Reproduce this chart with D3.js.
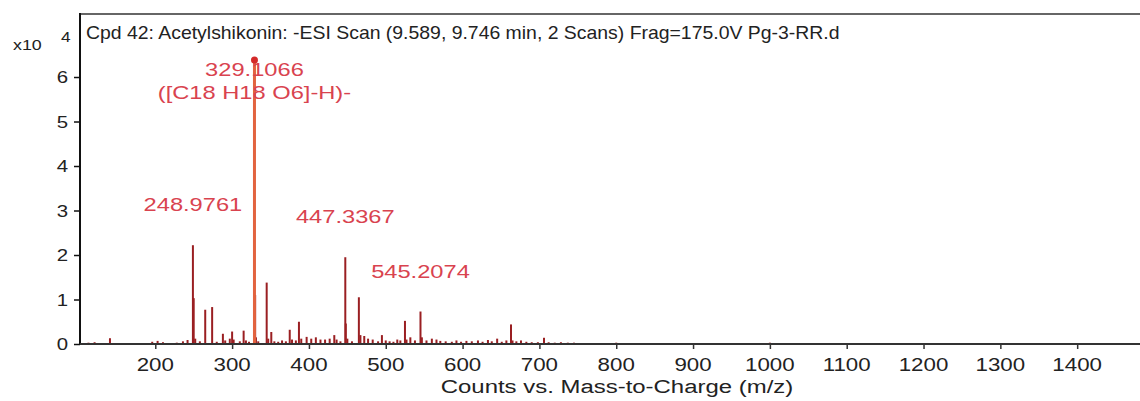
<!DOCTYPE html>
<html><head><meta charset="utf-8">
<script src="https://cdn.jsdelivr.net/npm/d3@7"></script>
<style>html,body{margin:0;padding:0;background:#fff;}svg{display:block;}</style>
</head><body>
<svg id="c" width="1140" height="401"></svg>
<script>
// ---- data ----
const titleText = "Cpd 42: Acetylshikonin: -ESI Scan (9.589, 9.746 min, 2 Scans) Frag=175.0V Pg-3-RR.d";
const xAxisTitle = "Counts vs. Mass-to-Charge (m/z)";
const yTicks = [0, 1, 2, 3, 4, 5, 6];
const xTicks = [200, 300, 400, 500, 600, 700, 800, 900, 1000, 1100, 1200, 1300, 1400];
// peak m/z and intensity (x10^4 counts)
const peakMz = [113,121,141,196,203,210,228,236,242,248.9761,250,252,258,265,274,280,288,291,297,300,302,310,315,318,322,329.1066,330,331,334,345,347,351,355,360,365,370,375,378,383,387,390,397,403,409,415,421,427,433,436,441,447.3367,448,450,456,465,467,472,477,483,490,495,500,505,510,515,519,525,527,532,538,545.2074,547,553,560,566,571,578,586,592,598,605,612,620,626,633,638,645,651,657,663,665,670,676,683,690,698,706,712,720,728,737,745,755,770,790,800,830,860,890,950,1000,1050,1110,1140];
const peakInt = [0.03,0.04,0.13,0.05,0.07,0.04,0.03,0.06,0.09,2.22,1.03,0.12,0.06,0.77,0.83,0.05,0.23,0.08,0.12,0.28,0.10,0.06,0.30,0.08,0.05,6.38,1.10,0.15,0.06,1.38,0.12,0.27,0.06,0.05,0.08,0.06,0.32,0.10,0.08,0.50,0.12,0.16,0.12,0.15,0.10,0.10,0.12,0.20,0.10,0.06,1.95,0.46,0.12,0.06,1.05,0.20,0.18,0.12,0.10,0.06,0.20,0.08,0.06,0.05,0.10,0.08,0.52,0.10,0.15,0.08,0.73,0.15,0.08,0.12,0.10,0.07,0.06,0.05,0.08,0.05,0.07,0.06,0.08,0.05,0.09,0.06,0.12,0.05,0.08,0.44,0.08,0.06,0.08,0.05,0.04,0.04,0.14,0.04,0.03,0.04,0.03,0.03,0.02,0.02,0.02,0.03,0.02,0.02,0.02,0.02,0.03,0.02,0.02,0.02];
const labelMz = [329.1066, 248.9761, 447.3367, 545.2074];
const labelLines = [["329.1066", "([C18 H18 O6]-H)-"], ["248.9761"], ["447.3367"], ["545.2074"]];
const markerMz = [329.1066];

// ---- layout ----
const W = 1140, H = 401;
const pL = 80, pR = 1154, pT = 14, pB = 344;
const svg = d3.select("#c");
const x = d3.scaleLinear().domain([102, 1500]).range([pL, pR]);
const y = d3.scaleLinear().domain([0, 7.416]).range([pB, pT]);
const peaks = peakMz.map((m, i) => ({ m, v: peakInt[i] }));

function txt(g, px, py, s, size, anchor, fill, sx) {
  const t = g.append("g").attr("transform", `translate(${px},${py}) scale(${sx},1)`);
  return t.append("text").attr("x", 0).attr("y", 0).attr("text-anchor", anchor)
    .attr("font-family", "Liberation Sans, Arial, sans-serif").attr("font-size", size)
    .attr("fill", fill).text(s);
}

// top frame line
svg.append("line").attr("x1", pL).attr("x2", W).attr("y1", pT).attr("y2", pT)
  .attr("stroke", "#666").attr("stroke-width", 2);

// peaks
const pg = svg.append("g");
pg.selectAll("line.pk").data(peaks.filter(d => d.m !== 329.1066)).join("line")
  .attr("x1", d => x(d.m)).attr("x2", d => x(d.m))
  .attr("y1", y(0)).attr("y2", d => y(d.v))
  .attr("stroke", "#9a1f22").attr("stroke-width", 2);
pg.selectAll("line.main").data(peaks.filter(d => d.m === 329.1066)).join("line")
  .attr("x1", d => x(d.m)).attr("x2", d => x(d.m))
  .attr("y1", y(0)).attr("y2", d => y(d.v))
  .attr("stroke", "#e2633f").attr("stroke-width", 3);
pg.selectAll("circle").data(peaks.filter(d => markerMz.includes(d.m))).join("circle")
  .attr("cx", d => x(d.m)).attr("cy", d => y(d.v)).attr("r", 3.5).attr("fill", "#d42a2a");

// axes
const yAxis = svg.append("g").attr("transform", `translate(${pL},0)`)
  .call(d3.axisLeft(y).tickValues(yTicks).tickSize(6).tickFormat(""));
yAxis.select(".domain").remove();
yAxis.selectAll(".tick line").attr("stroke", "#111").attr("stroke-width", 1.5);
svg.append("line").attr("x1", pL).attr("x2", pL).attr("y1", pT - 1).attr("y2", pB + 1)
  .attr("stroke", "#111").attr("stroke-width", 2);
const xAxis = svg.append("g").attr("transform", `translate(0,${pB})`)
  .call(d3.axisBottom(x).tickValues(xTicks).tickSize(5).tickFormat(""));
xAxis.select(".domain").remove();
xAxis.selectAll(".tick line").attr("stroke", "#333").attr("stroke-width", 1.5);
svg.append("line").attr("x1", pL).attr("x2", W).attr("y1", pB).attr("y2", pB)
  .attr("stroke", "#333").attr("stroke-width", 2);

const tg = svg.append("g");
yTicks.forEach(v => txt(tg, 68, y(v) + 6, String(v), 17, "end", "#222", 1.2));
xTicks.forEach(v => txt(tg, x(v), 371, String(v), 18, "middle", "#222", 1.24));
txt(tg, (pL + pR) / 2, 393, xAxisTitle, 19, "middle", "#222", 1.26);
txt(tg, 13, 50, "x10", 15.5, "start", "#222", 1.15);
txt(tg, 61, 42, "4", 15, "start", "#222", 1.15);
txt(tg, 86, 39, titleText, 17.5, "start", "#222", 1.11);

// labels
labelMz.forEach((m, i) => {
  const p = peaks.find(d => d.m === m);
  const lines = labelLines[i];
  if (lines.length > 1) {
    txt(tg, x(m), y(p.v) + 16, lines[0], 18.5, "middle", "#d9434f", 1.28);
    txt(tg, x(m), y(p.v) + 39, lines[1], 18.5, "middle", "#d9434f", 1.28);
  } else {
    txt(tg, x(m), y(p.v) - 34, lines[0], 18.5, "middle", "#d9434f", 1.28);
  }
});
</script>
</body></html>
